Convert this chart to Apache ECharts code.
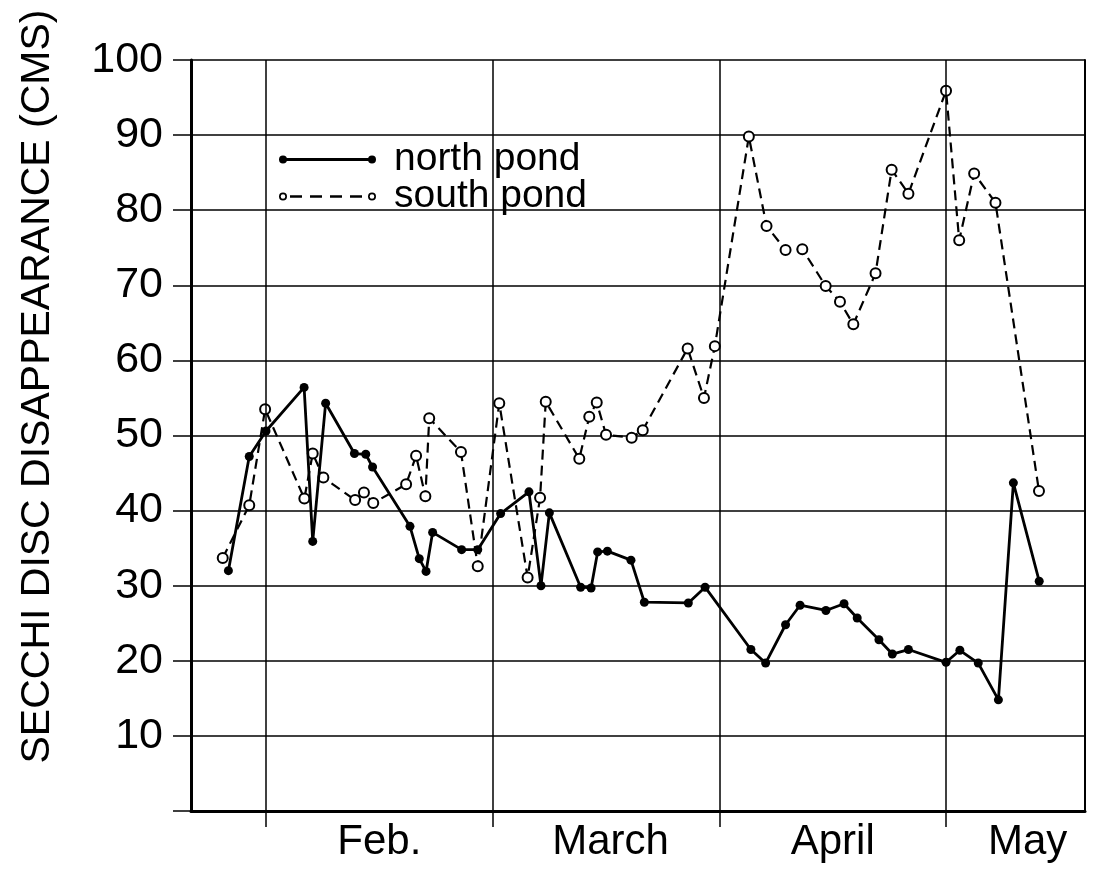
<!DOCTYPE html>
<html>
<head>
<meta charset="utf-8">
<script src="https://cdn.jsdelivr.net/npm/echarts@6/dist/echarts.min.js"></script>
<style>
html,body{margin:0;padding:0;background:#fff;}
#chart{width:1095px;height:874px;}
</style>
</head>
<body>
<div id="chart"></div>
<script>
// x positions are in "month" units: 1 = start of Feb., 2 = March, 3 = April, 4 = May
const monthBoundaries = [1, 2, 3, 4];
const monthLabelPos = [1.5, 2.52, 3.5, 4.36];
const monthLabelNames = ['Feb.', 'March', 'April', 'May'];
const yTicks = [10, 20, 30, 40, 50, 60, 70, 80, 90, 100];

const northPond = [
  [0.834, 32.0], [0.926, 47.2], [1.0, 50.6], [1.168, 56.4], [1.206, 35.9], [1.263, 54.3],
  [1.39, 47.6], [1.44, 47.5], [1.47, 45.8], [1.635, 37.9], [1.676, 33.6], [1.706, 31.9],
  [1.735, 37.1], [1.863, 34.8], [1.934, 34.8], [2.035, 39.6], [2.16, 42.5], [2.213, 30.0],
  [2.25, 39.7], [2.388, 29.8], [2.434, 29.7], [2.463, 34.5], [2.506, 34.6], [2.61, 33.4],
  [2.669, 27.8], [2.863, 27.7], [2.937, 29.8], [3.139, 21.5], [3.204, 19.7], [3.292, 24.8],
  [3.356, 27.4], [3.47, 26.7], [3.55, 27.6], [3.608, 25.7], [3.704, 22.8], [3.763, 20.9],
  [3.834, 21.5], [4.0, 19.8], [4.061, 21.4], [4.142, 19.7], [4.231, 14.8], [4.297, 43.7],
  [4.411, 30.6]
];

const southPond = [
  [0.809, 33.7], [0.926, 40.7], [0.996, 53.5], [1.169, 41.6], [1.206, 47.6], [1.253, 44.4],
  [1.393, 41.4], [1.432, 42.4], [1.473, 41.0], [1.618, 43.5], [1.662, 47.3], [1.703, 41.9],
  [1.72, 52.3], [1.86, 47.8], [1.934, 32.6], [2.029, 54.3], [2.154, 31.1], [2.209, 41.7],
  [2.234, 54.5], [2.382, 46.9], [2.426, 52.5], [2.459, 54.4], [2.5, 50.1], [2.613, 49.7],
  [2.662, 50.7], [2.86, 61.6], [2.932, 55.0], [2.98, 61.9], [3.13, 89.8], [3.208, 77.9],
  [3.292, 74.7], [3.366, 74.8], [3.469, 69.9], [3.532, 67.8], [3.591, 64.8], [3.689, 71.6],
  [3.76, 85.4], [3.834, 82.2], [4.0, 95.9], [4.058, 76.0], [4.124, 84.9], [4.218, 81.0],
  [4.41, 42.6]
];

const FONT = '"Liberation Sans", Arial, sans-serif';
const northIcon = 'path://M0,4a4,4 0 1,1 8,0a4,4 0 1,1 -8,0Z M89,4a4,4 0 1,1 8,0a4,4 0 1,1 -8,0Z M4,2.6H93V5.4H4Z';
const southIcon = 'path://M0,4a4,4 0 1,1 8,0a4,4 0 1,1 -8,0Z M1.7,4a2.3,2.3 0 1,0 4.6,0a2.3,2.3 0 1,0 -4.6,0Z ' +
  'M89,4a4,4 0 1,1 8,0a4,4 0 1,1 -8,0Z M90.7,4a2.3,2.3 0 1,0 4.6,0a2.3,2.3 0 1,0 -4.6,0Z ' +
  'M11,2.8H23V5.2H11Z M31,2.8H43V5.2H31Z M51,2.8H63V5.2H51Z M71,2.8H83V5.2H71Z';

const chart = echarts.init(document.getElementById('chart'), null, {renderer: 'canvas'});
chart.setOption({
  animation: false,
  backgroundColor: '#fff',
  grid: {left: 191, right: 10, top: 60, bottom: 63, containLabel: false},
  legend: {
    orient: 'vertical',
    left: 274,
    top: 135,
    itemWidth: 97,
    itemHeight: 8,
    itemGap: -2,
    selectedMode: false,
    textStyle: {fontFamily: FONT, fontSize: 39, color: '#000', lineHeight: 36, padding: [0, 0, 0, 13]},
    data: [
      {name: 'north pond', icon: northIcon, itemStyle: {color: '#000', borderWidth: 0}},
      {name: 'south pond', icon: southIcon, itemStyle: {color: '#000', borderWidth: 0}}
    ]
  },
  xAxis: {
    type: 'value',
    min: 0.669,
    max: 4.613,
    axisLine: {show: true, onZero: false, lineStyle: {color: '#000', width: 3}},
    axisTick: {show: true, customValues: monthBoundaries, length: 16, inside: false, lineStyle: {color: '#000', width: 1.5}},
    axisLabel: {
      customValues: monthLabelPos,
      margin: 10,
      fontFamily: FONT, fontSize: 42, color: '#000',
      formatter: function (v) {
        for (let i = 0; i < monthLabelPos.length; i++) {
          if (Math.abs(monthLabelPos[i] - v) < 1e-6) return monthLabelNames[i];
        }
        return '';
      }
    },
    splitLine: {show: false}
  },
  yAxis: [{
    type: 'value',
    min: 0,
    max: 100,
    interval: 10,
    name: 'SECCHI DISC DISAPPEARANCE (CMS)',
    nameLocation: 'middle',
    nameGap: 133,
    nameTextStyle: {fontFamily: FONT, fontSize: 41, color: '#000', padding: [0, 0, 0, 98]},
    axisLine: {show: true, lineStyle: {color: '#000', width: 3}},
    axisTick: {show: true, length: 18, lineStyle: {color: '#000', width: 1.5}},
    axisLabel: {
      margin: 28, fontFamily: FONT, fontSize: 43, color: '#000',
      formatter: function (v) { return yTicks.indexOf(v) >= 0 ? String(v) : ''; }
    },
    splitLine: {show: true, lineStyle: {color: '#000', width: 1.5}}
  }, {
    type: 'value',
    min: 0,
    max: 100,
    position: 'right',
    axisLine: {show: true, lineStyle: {color: '#000', width: 2}},
    axisTick: {show: false},
    axisLabel: {show: false},
    splitLine: {show: false}
  }],
  series: [
    {
      name: 'north pond',
      type: 'line',
      data: northPond,
      symbol: 'circle',
      symbolSize: 9,
      itemStyle: {color: '#000'},
      lineStyle: {color: '#000', width: 2.8},
      z: 4,
      markLine: {
        silent: true,
        symbol: 'none',
        label: {show: false},
        lineStyle: {color: '#000', width: 1.5, type: 'solid'},
        data: monthBoundaries.map(function (m) { return {xAxis: m}; })
      }
    },
    {
      name: 'south pond',
      type: 'line',
      data: southPond,
      symbol: 'emptyCircle',
      symbolSize: 10,
      itemStyle: {color: '#000', borderWidth: 2.2},
      lineStyle: {color: '#000', width: 2.2, type: [10, 6]},
      z: 3
    }
  ]
});
</script>
</body>
</html>
